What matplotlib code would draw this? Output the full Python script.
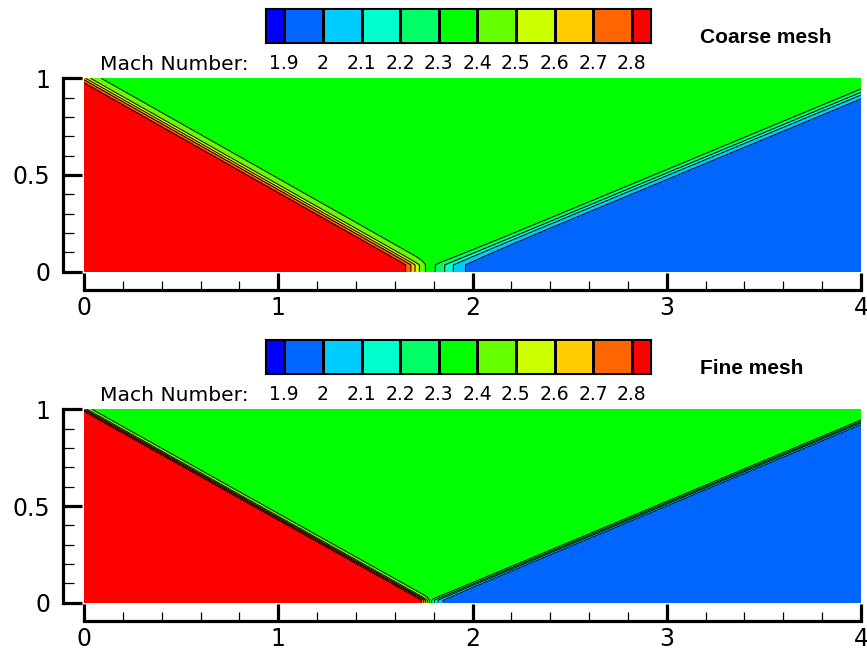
import numpy as np
import matplotlib
matplotlib.use("Agg")
import matplotlib.pyplot as plt
from matplotlib.colors import ListedColormap

# ---------------- data ----------------
levels = [1.9, 2.0, 2.1, 2.2, 2.3, 2.4, 2.5, 2.6, 2.7, 2.8]
level_labels = ["1.9", "2", "2.1", "2.2", "2.3", "2.4", "2.5", "2.6", "2.7", "2.8"]
band_colors = ["#0000ff", "#0066ff", "#00ccff", "#00ffcc", "#00ff66", "#00ff00",
               "#66ff00", "#ccff00", "#ffcc00", "#ff6600", "#ff0000"]

# Mach number in the three flow states: inflow, behind incident shock, behind reflected shock
mach_states = [2.9, 2.378, 1.942]

panel_titles = ["Coarse mesh", "Fine mesh"]
incident_foot_x = [1.76, 1.78]      # incident shock: from (0,1) to (foot, 0)
reflected_foot_x = [1.79, 1.78]     # reflected shock: from (foot, 0) ...
reflected_exit_y = [0.922, 0.934]   # ... to (4, exit)
shock_width = [0.028, 0.013]        # numerical smearing
reflected_wall_boost = [0.5, 0.3]   # extra smearing of reflected shock at the wall
wall_layer = [0.035, 0.012]

x_ticks = [0, 1, 2, 3, 4]
x_ticklabels = ["0", "1", "2", "3", "4"]
y_ticks = [0, 0.5, 1]
y_ticklabels = ["0", "0.5", "1"]
x_minor = np.arange(0, 4.01, 0.2)
y_minor = np.arange(0, 1.01, 0.1)


def mach_field(X, Y, xi, xr, yr, w, boost, y0):
    Ye = np.maximum(Y, y0)
    d1 = -(X / xi + Ye - 1.0) / np.hypot(1.0 / xi, 1.0)
    f1 = 0.5 * (1 + np.tanh(d1 / w))
    s = yr / (4.0 - xr)
    d2 = (s * (X - xr) - Ye) / np.hypot(s, 1.0)
    w2 = w * (1 + boost * np.exp(-Ye / 0.08))
    f2 = 0.5 * (1 + np.tanh(d2 / w2))
    m1, m2, m3 = mach_states
    return m2 + (m1 - m2) * f1 + (m3 - m2) * f2


FONT = "DejaVu Sans"
BFONT = "Liberation Sans"
W, H = 867, 655
fig = plt.figure(figsize=(W / 100, H / 100), dpi=100)

x = np.linspace(0, 4, 1601)
y = np.linspace(0, 1, 401)
X, Y = np.meshgrid(x, y)

cmap = ListedColormap(band_colors)
fill_levels = [0.0] + levels + [5.0]

for i in range(2):
    off = 331.0 * i
    # main axes
    left, right = 84, 861
    top, bot = 78.3 + off, 271.7 + off
    ax = fig.add_axes([left / W, 1 - bot / H, (right - left) / W, (bot - top) / H])
    M = mach_field(X, Y, incident_foot_x[i], reflected_foot_x[i], reflected_exit_y[i],
                   shock_width[i], reflected_wall_boost[i], wall_layer[i])
    ax.contourf(X, Y, M, levels=fill_levels, colors=band_colors)
    ax.contour(X, Y, M, levels=levels, colors="k", linewidths=0.7)
    ax.set_xlim(0, 4)
    ax.set_ylim(0, 1)
    for s in ("top", "right"):
        ax.spines[s].set_visible(False)
    ax.spines["left"].set_position(("outward", 14.9))
    ax.spines["bottom"].set_position(("outward", 13.2))
    ax.spines["left"].set_linewidth(2.3)
    ax.spines["bottom"].set_linewidth(2.3)
    ax.set_xticks(x_ticks)
    ax.set_xticklabels(x_ticklabels, fontfamily=FONT, fontsize=17)
    ax.set_yticks(y_ticks)
    ax.set_yticklabels(y_ticklabels, fontfamily=FONT, fontsize=17)
    ax.set_xticks(x_minor, minor=True)
    ax.set_yticks(y_minor, minor=True)
    ax.tick_params(axis="x", which="major", direction="in", length=12.2, width=2.3, pad=4)
    ax.tick_params(axis="x", which="minor", direction="in", length=6.5, width=0.9)
    ax.tick_params(axis="y", which="major", direction="in", length=13.7, width=2.3, pad=9.5)
    ax.tick_params(axis="y", which="minor", direction="in", length=8.0, width=0.9)

    # legend bar
    ctop, cbot = 8.3 + off, 42.5 + off
    cax = fig.add_axes([265 / W, 1 - cbot / H, (651 - 265) / W, (cbot - ctop) / H])
    step = levels[1] - levels[0]
    edges = [levels[0] - step / 2] + levels + [levels[-1] + step / 2]
    cax.pcolormesh(edges, [0, 1], np.arange(len(band_colors)).reshape(1, -1),
                   cmap=cmap, edgecolors="k", linewidth=0.8)
    cax.set_xlim(edges[0], edges[-1])
    cax.set_ylim(0, 1)
    cax.set_yticks([])
    cax.set_xticks(levels)
    cax.set_xticklabels(level_labels, fontfamily=FONT, fontsize=13.5)
    cax.tick_params(axis="x", length=0, pad=8)
    for s in cax.spines.values():
        s.set_linewidth(0.8)

    fig.text(249 / W, 1 - (70 + off) / H, "Mach Number:", ha="right", va="baseline",
             fontfamily=FONT, fontsize=14.6)
    fig.text(700 / W, 1 - (43.3 + off) / H, panel_titles[i], ha="left", va="baseline",
             fontfamily=BFONT, fontsize=15, fontweight="bold")

fig.savefig("out.png", dpi=100)
